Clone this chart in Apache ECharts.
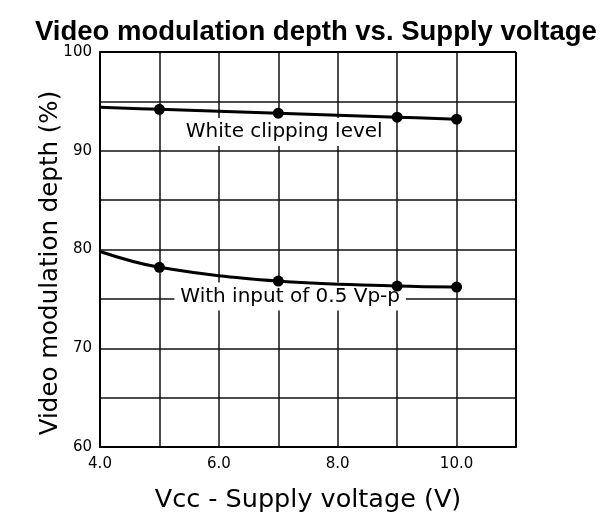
<!DOCTYPE html>
<html>
<head>
<meta charset="utf-8">
<script src="https://cdn.jsdelivr.net/npm/echarts@6/dist/echarts.min.js"></script>
<style>
  html, body { margin: 0; padding: 0; background: #fff; }
  #chart { width: 603px; height: 519px; }
</style>
</head>
<body>
<div id="chart"></div>
<script>
// supply voltage (V) where the curves are sampled
const voltage = [4.0, 5.0, 7.0, 9.0, 10.0];
// modulation depth (%)
const whiteClipping = [94.4, 94.2, 93.8, 93.4, 93.2];
const input05Vpp = [79.8, 78.2, 76.8, 76.3, 76.2];
// which points carry a dot (first point is just where the curve starts)
const hasMarker = [false, true, true, true, true];

const seriesNames = ["White clipping level", "With input of 0.5 Vp-p"];
// label anchor in data coords [voltage, depth]
const labelCoords = [[7.1, 91.9], [7.2, 75.25]];

const xTicks = ["4.0", "6.0", "8.0", "10.0"];
const yTicks = [60, 70, 80, 90, 100];

const font = "DejaVu Sans, Verdana, sans-serif";
const titleFont = "Liberation Sans, Arial, Helvetica, sans-serif";

function buildData(ys) {
  return voltage.map(function (x, i) {
    const item = { value: [x, ys[i]] };
    if (!hasMarker[i]) item.symbol = "none";
    return item;
  });
}

function makeSeries(name, ys, coord) {
  return {
    name: name,
    type: "line",
    smooth: 0.4,
    data: buildData(ys),
    symbol: "circle",
    symbolSize: 11,
    itemStyle: { color: "#000" },
    lineStyle: { color: "#000", width: 3 },
    z: 5,
    markPoint: {
      symbol: "rect",
      symbolSize: 0,
      silent: true,
      z: 3,
      data: [{ coord: coord, value: name }],
      label: {
        show: true,
        position: "inside",
        formatter: name,
        color: "#000",
        fontFamily: font,
        fontSize: 20,
        backgroundColor: "#fff",
        padding: [4, 6],
      },
    },
  };
}

const chart = echarts.init(document.getElementById("chart"));

chart.setOption({
  animation: false,
  backgroundColor: "#fff",
  title: {
    text: "Video modulation depth vs. Supply voltage",
    left: 30,
    top: 13,
    textStyle: {
      fontFamily: titleFont,
      fontWeight: "bold",
      fontSize: 27.5,
      color: "#000",
    },
  },
  grid: {
    left: 100,
    right: 87,
    top: 52,
    bottom: 72,
  },
  xAxis: {
    type: "value",
    min: 4,
    max: 11,
    interval: 1,
    name: "Vcc - Supply voltage (V)",
    nameLocation: "middle",
    nameGap: 40,
    nameTextStyle: { fontFamily: font, fontSize: 25.5, color: "#000" },
    axisLine: { show: true, lineStyle: { color: "#000", width: 2 } },
    axisTick: { show: false },
    axisLabel: {
      color: "#000",
      fontFamily: font,
      fontSize: 15,
      margin: 10,
      formatter: function (v) {
        const s = v.toFixed(1);
        return xTicks.indexOf(s) >= 0 ? s : "";
      },
    },
    splitLine: { show: true, lineStyle: { color: "#111", width: 1.5 } },
  },
  yAxis: {
    type: "value",
    min: 60,
    max: 100,
    interval: 5,
    name: "Video modulation depth (%)",
    nameLocation: "middle",
    nameGap: 37,
    nameMoveOverlap: false,
    nameTextStyle: {
      fontFamily: font,
      fontSize: 24.5,
      color: "#000",
      padding: [0, 27, 0, 0],
    },
    axisLine: { show: true, lineStyle: { color: "#000", width: 2 } },
    axisTick: { show: false },
    axisLabel: {
      color: "#000",
      fontFamily: font,
      fontSize: 15,
      margin: 8,
      formatter: function (v) {
        return yTicks.indexOf(v) >= 0 ? String(v) : "";
      },
    },
    splitLine: { show: true, lineStyle: { color: "#111", width: 1.5 } },
  },
  series: [
    makeSeries(seriesNames[0], whiteClipping, labelCoords[0]),
    makeSeries(seriesNames[1], input05Vpp, labelCoords[1]),
    {
      // right and top borders of the plot frame
      type: "line",
      data: [],
      markLine: {
        silent: true,
        symbol: "none",
        label: { show: false },
        lineStyle: { color: "#000", width: 2, type: "solid" },
        data: [{ xAxis: 11 }, { yAxis: 100 }],
      },
    },
  ],
});
</script>
</body>
</html>
